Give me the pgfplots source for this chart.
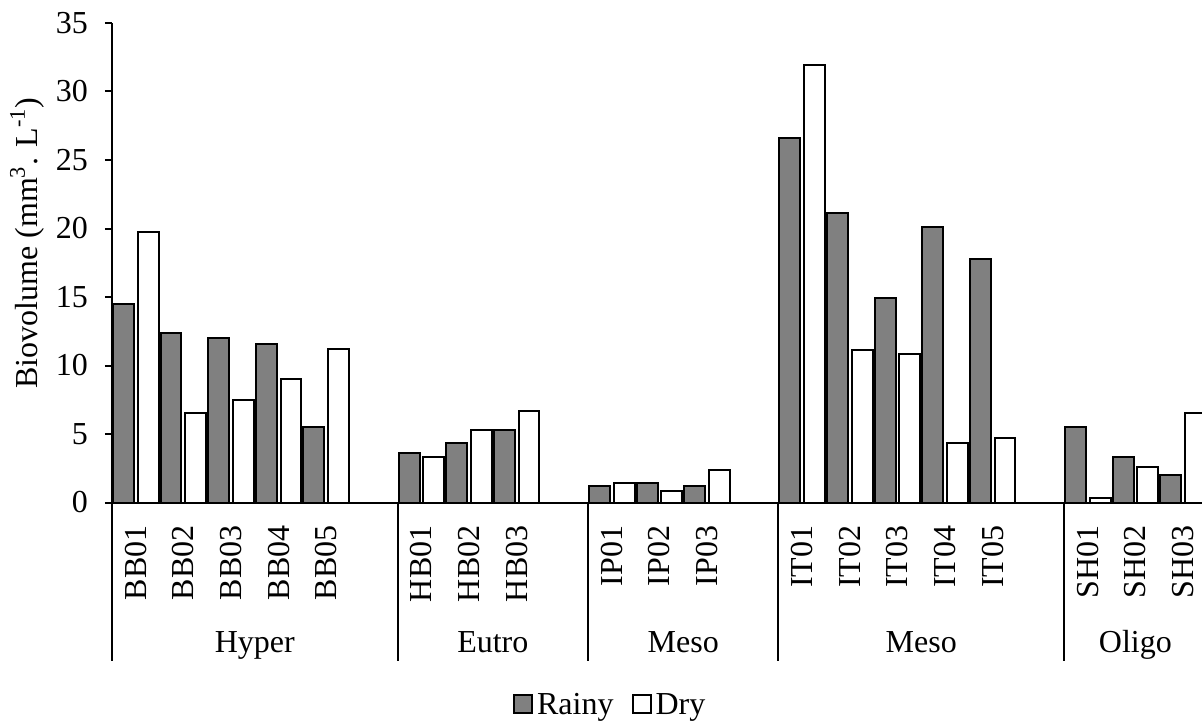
\documentclass[border=0pt]{standalone}
\usepackage{fontspec}
\setmainfont{Liberation Serif}
\usepackage{pgfplots}
\pgfplotsset{compat=1.18}
\usepackage{pgfplotstable}
\definecolor{rainy}{RGB}{128,128,128}

\pgfplotstableread{
x rainy dry
0 14.49 19.77
1 12.35 6.50
2 11.99 7.48
3 11.57 9.01
4 5.49 11.18
6 3.59 3.34
7 4.36 5.29
8 5.29 6.68
10 1.23 1.45
11 1.45 0.86
12 1.23 2.37
14 26.6 31.9
15 21.15 11.13
16 14.90 10.82
17 20.13 4.32
18 17.80 4.73
20 5.53 0.31
21 3.34 2.61
22 2.00 6.50
}\datatable

\begin{document}
\begin{tikzpicture}[font=\fontsize{16}{19}\selectfont]
\begin{axis}[
  scale only axis,
  width=547.4pt, height=239.75pt,
  xmin=-0.5, xmax=22.5,
  ymin=0, ymax=35,
  axis x line=bottom, axis y line=left,
  axis line style={-, line width=1pt, black},
  ytick={0,5,...,35},
  ytick style={line width=1pt, black},
  tick align=outside,
  major tick length=3.5pt,
  xtick={0,1,2,3,4,6,7,8,10,11,12,14,15,16,17,18,20,21,22},
  xticklabels={BB01,BB02,BB03,BB04,BB05,HB01,HB02,HB03,IP01,IP02,IP03,IT01,IT02,IT03,IT04,IT05,SH01,SH02,SH03},
  x tick style={draw=none},
  xticklabel style={rotate=90, anchor=east, xshift=-4.5pt, font=\fontsize{16}{19}\selectfont},
  yticklabel style={xshift=-5pt, font=\fontsize{16}{19}\selectfont},
  /pgf/number format/assume math mode=true,
  clip=false,
  ylabel={Biovolume (mm\textsuperscript{3}. L\textsuperscript{-1})},
  every axis y label/.style={at={(axis description cs:-0.0775,0.541)}, rotate=90, anchor=center, font=\fontsize{16}{19}\selectfont},
  legend style={at={(axis description cs:0.456,-0.424)}, anchor=center, draw=none,
    legend columns=2, font=\fontsize{16}{19}\selectfont,
    /tikz/every even column/.append style={column sep=7pt}},
]
\addplot[ybar, bar width=0.44, bar shift=0pt, fill=rainy, draw=black, line width=1pt,
  legend image code/.code={\draw[fill=rainy, draw=black, line width=1pt] (-2.5pt,-3.5pt) rectangle (6.5pt,5.5pt);}]
  table[x expr=\thisrow{x}-0.26, y=rainy] {\datatable};
\addlegendentry{Rainy}
\addplot[ybar, bar width=0.44, bar shift=0pt, fill=white, draw=black, line width=1pt,
  legend image code/.code={\draw[fill=white, draw=black, line width=1pt] (-2.5pt,-3.5pt) rectangle (6.5pt,5.5pt);}]
  table[x expr=\thisrow{x}+0.26, y=dry] {\datatable};
\addlegendentry{Dry}

\pgfplotsinvokeforeach{-0.5,5.5,9.5,13.5,19.5,22.5}{
  \draw[line width=1pt, black] (axis cs:#1,0) -- ++(0pt,-79pt);
}
\node[anchor=base] at ([yshift=-74.75pt]axis cs:2.5,0) {Hyper};
\node[anchor=base] at ([yshift=-74.75pt]axis cs:7.5,0) {Eutro};
\node[anchor=base] at ([yshift=-74.75pt]axis cs:11.5,0) {Meso};
\node[anchor=base] at ([yshift=-74.75pt]axis cs:16.5,0) {Meso};
\node[anchor=base] at ([yshift=-74.75pt]axis cs:21,0) {Oligo};
\coordinate (O) at (rel axis cs:0,0);
\end{axis}
\pgfresetboundingbox
\path[use as bounding box] (O) ++(-56pt,-109.75pt) rectangle ++(601pt,361pt);
\end{tikzpicture}
\end{document}
